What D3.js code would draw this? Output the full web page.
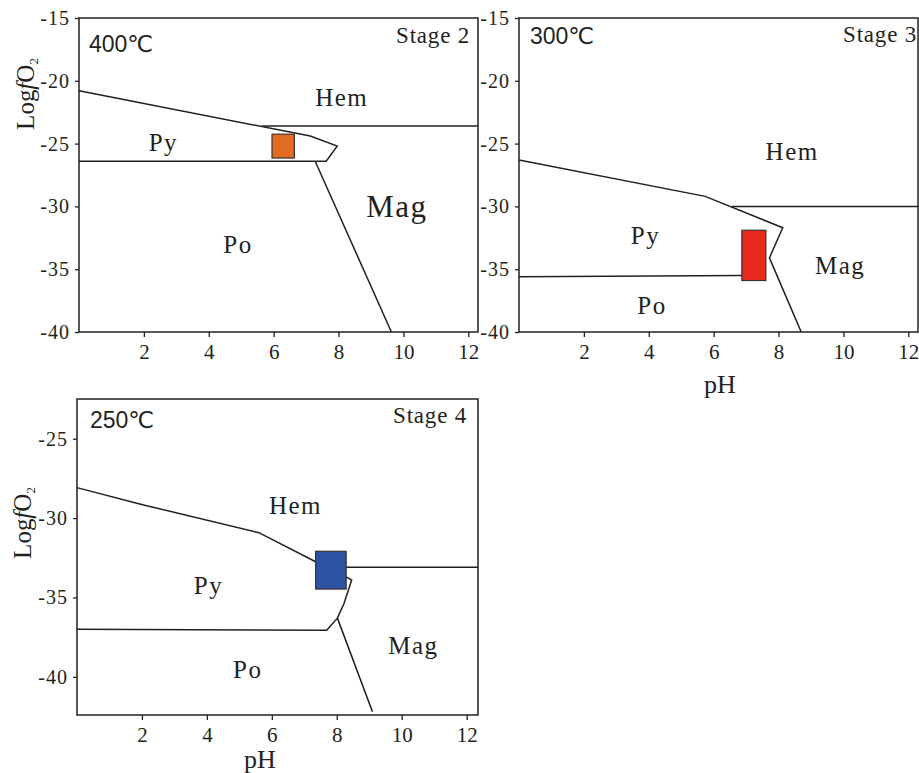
<!DOCTYPE html>
<html>
<head>
<meta charset="utf-8">
<script src="https://cdn.jsdelivr.net/npm/d3@7"></script>
<style>
  body { margin: 0; background: #fff; }
  svg { display: block; }
</style>
</head>
<body>
<script>
// pH (x) vs log fO2 (y) stability fields, three stages
const stages = ["Stage 2", "Stage 3", "Stage 4"];
const temps = ["400℃", "300℃", "250℃"];
const phTicks = [2, 4, 6, 8, 10, 12];
const fo2Ticks2 = [-15, -20, -25, -30, -35, -40];
const fo2Ticks3 = [-15, -20, -25, -30, -35, -40];
const fo2Ticks4 = [-25, -30, -35, -40];

// boundary lines, [pH, logfO2]
const lines2 = [
  [[0, -20.8], [7.13, -24.4], [7.96, -25.2], [7.62, -26.4], [0, -26.4]],
  [[5.64, -23.6], [12.3, -23.6]],
  [[7.28, -26.4], [9.63, -40]]
];
const lines3 = [
  [[0, -26.3], [5.74, -29.2], [8.13, -31.7], [7.72, -34.1], [8.7, -40]],
  [[6.56, -30.0], [12.3, -30.0]],
  [[0, -35.6], [6.87, -35.5]]
];
const lines4 = [
  [[0, -28.08], [2.05, -29.17], [5.6, -30.92], [7.35, -32.75]],
  [[8.29, -33.1], [12.35, -33.1]],
  [[8.29, -33.7], [8.46, -33.9], [8.22, -35.4], [8.02, -36.3], [7.69, -37.06], [0, -37.0]],
  [[8.02, -36.3], [9.1, -42.2]]
];

// fluid box: pH min, pH max, logfO2 min, logfO2 max
const box2 = [5.95, 6.64, -26.15, -24.25];
const box3 = [6.87, 7.61, -35.9, -31.9];
const box4 = [7.35, 8.29, -34.47, -32.09];

// field names and their centres
const fields2 = [["Hem", 8.1, -21.3], ["Py", 2.6, -24.9], ["Mag", 9.8, -30.0], ["Po", 4.9, -33.0]];
const fields3 = [["Hem", 8.42, -25.6], ["Py", 3.9, -32.3], ["Mag", 9.9, -34.7], ["Po", 4.1, -37.9]];
const fields4 = [["Hem", 6.73, -29.2], ["Py", 4.05, -34.2], ["Mag", 10.36, -38.0], ["Po", 5.26, -39.5]];

const serif = "'Liberation Serif', 'Times New Roman', serif";
const sans = "'Liberation Sans', Arial, 'DejaVu Sans', sans-serif";
const ink = "#231f20";

const svg = d3.select("body").append("svg")
  .attr("width", 919)
  .attr("height", 773);

function panel(o) {
  const x = d3.scaleLinear().domain(o.xDomain).range([o.left, o.right]);
  const y = d3.scaleLinear().domain(o.yDomain).range([o.bottom, o.top]);
  const g = svg.append("g");

  const ax = g.append("g")
    .attr("transform", `translate(0,${o.bottom})`)
    .call(d3.axisBottom(x).tickValues(phTicks).tickFormat(d => String(d))
      .tickSize(5).tickSizeOuter(0).tickPadding(7));
  ax.select(".domain").remove();
  ax.selectAll("line").attr("stroke", ink).attr("stroke-width", 1.3);
  ax.selectAll("text").attr("fill", ink)
    .style("font-family", serif).style("font-size", "21px");

  const ay = g.append("g")
    .attr("transform", `translate(${o.left},0)`)
    .call(d3.axisLeft(y).tickValues(o.yTicks).tickFormat(d => String(d))
      .tickSize(4).tickSizeOuter(0).tickPadding(5));
  ay.select(".domain").remove();
  ay.selectAll("line").attr("stroke", ink).attr("stroke-width", 1.3);
  ay.selectAll("text").attr("letter-spacing", 1).attr("fill", ink)
    .style("font-family", serif).style("font-size", "20px");

  const line = d3.line().x(d => x(d[0])).y(d => y(d[1]));
  g.selectAll("path.bd")
    .data(o.lines)
    .join("path")
    .attr("class", "bd")
    .attr("d", line)
    .attr("fill", "none")
    .attr("stroke", ink)
    .attr("stroke-width", 1.5)
    .attr("stroke-linejoin", "miter");

  g.append("rect")
    .attr("x", x(o.box[0]))
    .attr("y", y(o.box[3]))
    .attr("width", x(o.box[1]) - x(o.box[0]))
    .attr("height", y(o.box[2]) - y(o.box[3]))
    .attr("fill", o.color)
    .attr("stroke", "#3a3030")
    .attr("stroke-width", 1.2);

  g.selectAll("text.field")
    .data(o.fields)
    .join("text")
    .attr("class", "field")
    .attr("x", d => x(d[1]))
    .attr("y", d => y(d[2]))
    .attr("dy", "0.35em")
    .attr("text-anchor", "middle")
    .attr("font-family", serif)
    .attr("font-size", d => (d[0] === "Mag" && o.bigMag) ? 31 : 25)
    .attr("letter-spacing", 1.5)
    .attr("fill", ink)
    .text(d => d[0]);

  g.append("rect")
    .attr("x", o.left).attr("y", o.top)
    .attr("width", o.right - o.left).attr("height", o.bottom - o.top)
    .attr("fill", "none").attr("stroke", ink).attr("stroke-width", 1.5);

  g.append("text")
    .attr("x", o.left + o.tempDx).attr("y", o.top + o.tempDy)
    .attr("font-family", sans).attr("font-size", 23).attr("fill", ink)
    .text(o.temp);

  g.append("text")
    .attr("x", o.right - o.stageDx).attr("y", o.top + o.stageDy)
    .attr("text-anchor", "end")
    .attr("font-family", serif).attr("font-size", 23).attr("letter-spacing", 0.8)
    .attr("fill", ink)
    .text(o.stage);

  if (o.yLabel) {
    const t = g.append("text")
      .attr("transform", `translate(${o.yLabel[0]},${o.yLabel[1]}) rotate(-90)`)
      .attr("text-anchor", "middle")
      .attr("dy", "0.35em")
      .attr("font-family", serif).attr("font-size", 25).attr("fill", ink);
    t.append("tspan").text("Log");
    t.append("tspan").attr("font-style", "italic").text("f");
    t.append("tspan").text("O");
    t.append("tspan").attr("font-size", 13).attr("dy", "0.3em").text("2");
  }
  if (o.xLabel) {
    g.append("text")
      .attr("x", o.xLabel[0]).attr("y", o.xLabel[1])
      .attr("text-anchor", "middle")
      .attr("font-family", serif).attr("font-size", 26).attr("fill", ink)
      .text("pH");
  }
}

panel({
  left: 79, right: 478, top: 18, bottom: 332,
  xDomain: [0, 12.3], yDomain: [-40, -15], yTicks: fo2Ticks2,
  lines: lines2, box: box2, color: "#e46c21", fields: fields2, bigMag: true,
  temp: temps[0], tempDx: 10, tempDy: 34, stage: stages[0], stageDx: 8, stageDy: 25,
  yLabel: [25, 94]
});
panel({
  left: 519, right: 918, top: 18, bottom: 332,
  xDomain: [0, 12.3], yDomain: [-40, -15], yTicks: fo2Ticks3,
  lines: lines3, box: box3, color: "#e8291c", fields: fields3,
  temp: temps[1], tempDx: 11, tempDy: 26, stage: stages[1], stageDx: 1, stageDy: 24,
  xLabel: [720, 393]
});
panel({
  left: 77, right: 478, top: 399, bottom: 715,
  xDomain: [0, 12.35], yDomain: [-42.4, -22.5], yTicks: fo2Ticks4,
  lines: lines4, box: box4, color: "#2d54a3", fields: fields4,
  temp: temps[2], tempDx: 13, tempDy: 29, stage: stages[2], stageDx: 11, stageDy: 24,
  yLabel: [22, 523], xLabel: [260, 768]
});
</script>
</body>
</html>
